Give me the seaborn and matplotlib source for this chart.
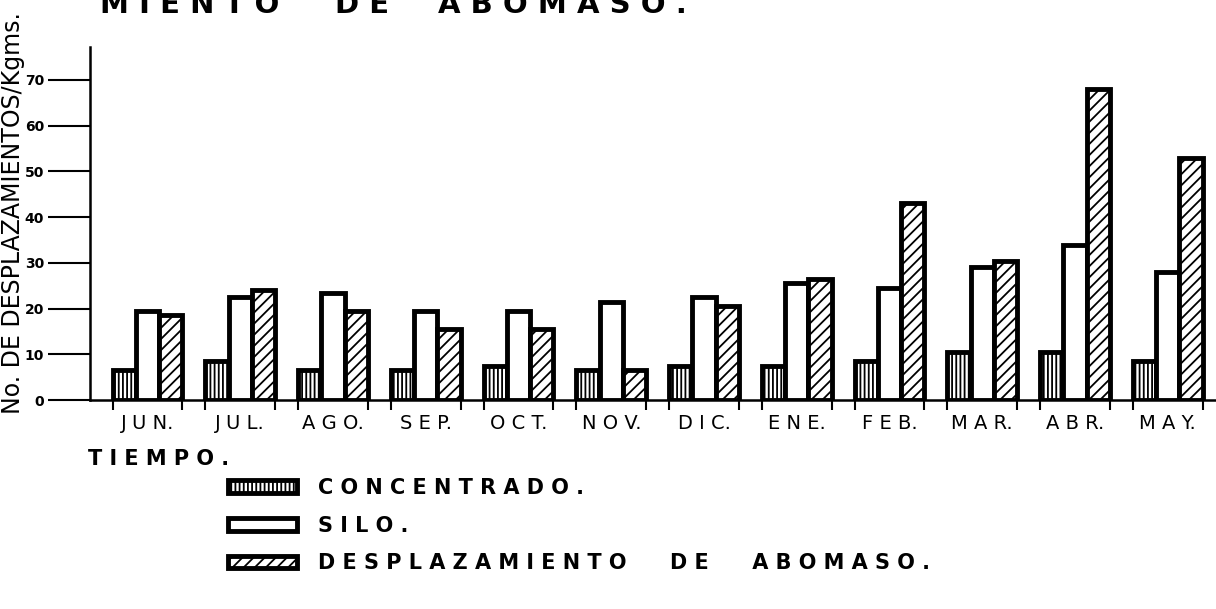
import numpy as np
import pandas as pd
import matplotlib
matplotlib.use('Agg')
import matplotlib.pyplot as plt
import seaborn as sns

# Meses (etiquetas tal como aparecen, letras espaciadas)
meses = ["J U N.", "J U L.", "A G O.", "S E P.", "O C T.", "N O V.",
         "D I C.", "E N E.", "F E B.", "M A R.", "A B R.", "M A Y."]
series = ["CONCENTRADO", "SILO", "DESPLAZAMIENTO DE ABOMASO"]
etiquetas_leyenda = ["C O N C E N T R A D O .",
                     "S I L O .",
                     "D E S P L A Z A M I E N T O      D E      A B O M A S O ."]

concentrado = [6.5, 8.5, 6.5, 6.5, 7.5, 6.5, 7.5, 7.5, 8.5, 10.5, 10.5, 8.5]
silo = [19.5, 22.5, 23.5, 19.5, 19.5, 21.5, 22.5, 25.5, 24.5, 29, 34, 28]
desplazamiento = [18.5, 24, 19.5, 15.5, 15.5, 6.5, 20.5, 26.5, 43, 30.5, 68, 53]

yticks = [0, 10, 20, 30, 40, 50, 60, 70]

df = pd.DataFrame({
    'mes': meses * 3,
    'serie': [series[0]] * 12 + [series[1]] * 12 + [series[2]] * 12,
    'valor': concentrado + silo + desplazamiento,
})

sns.set_style('white')
plt.rcParams['font.family'] = ['DejaVu Sans']
plt.rcParams['hatch.linewidth'] = 1.3
plt.rcParams['text.color'] = 'black'
plt.rcParams['xtick.color'] = 'black'
plt.rcParams['ytick.color'] = 'black'
plt.rcParams['axes.labelcolor'] = 'black'

fig = plt.figure(figsize=(12.16, 6.09), dpi=100)
ax = fig.add_axes([90 / 1216, 209 / 609, 1126 / 1216, 353 / 609])

sns.barplot(data=df, x='mes', y='valor', hue='serie', order=meses,
            hue_order=series, palette=['white'] * 3, saturation=1,
            width=0.75, gap=0, edgecolor='black', linewidth=3.5,
            legend=False, ax=ax)

hatches = ['||||', '', '///']
for cont, h in zip(ax.containers, hatches):
    for p in cont.patches:
        p.set_hatch(h)

ax.set_xlim(-0.62, 11.52)
ax.set_ylim(0, 77.2)
ax.set_xlabel('')
ax.set_ylabel('')

sns.despine(ax=ax, top=True, right=True)
for s in ('left', 'bottom'):
    ax.spines[s].set_linewidth(1.8)
    ax.spines[s].set_color('black')

ax.set_yticks(yticks)
ax.set_yticklabels([str(v) for v in yticks], fontsize=10, fontweight='bold')
ax.tick_params(axis='y', direction='out', length=30, width=1.5, pad=3, left=True)
ax.tick_params(axis='x', which='major', length=0, pad=10, labelsize=14)
bordes = [i + s * 0.375 for i in range(len(meses)) for s in (-1, 1)]
ax.set_xticks(bordes, minor=True)
ax.tick_params(axis='x', which='minor', direction='out', length=7, width=1.5, bottom=True)

# Titulo (recortado en el original)
fig.text(100 / 1216, 0.979, 'M I E N T O', fontsize=21, fontweight='bold', va='baseline')
fig.text(335 / 1216, 0.979, 'D E', fontsize=21, fontweight='bold', va='baseline')
fig.text(438 / 1216, 0.979, 'A B O M A S O .', fontsize=21, fontweight='bold', va='baseline')

fig.text(13 / 1216, 0.65, 'No. DE DESPLAZAMIENTOS/Kgms.', rotation=90,
         fontsize=17, ha='center', va='center')
fig.text(88 / 1216, (609 - 465) / 609, 'T I E M P O .', fontsize=15,
         fontweight='bold', va='baseline')

leg = fig.legend(handles=[c.patches[0] for c in ax.containers], labels=etiquetas_leyenda,
                 loc='upper left', bbox_to_anchor=(228 / 1216, 1 - 478 / 609),
                 frameon=False, fontsize=15, handlelength=3.3, handleheight=0.55,
                 handletextpad=1.0, labelspacing=0.85, borderpad=0, borderaxespad=0)
for t in leg.get_texts():
    t.set_fontweight('bold')

fig.savefig('out.png', dpi=100, facecolor='white')
